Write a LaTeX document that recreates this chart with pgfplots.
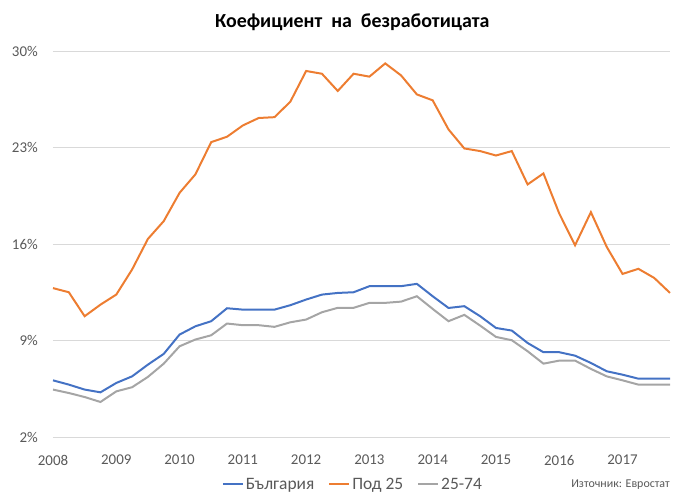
\documentclass[border=0pt]{standalone}
\usepackage{pgfplots}
\usepackage{pgfplotstable}
\pgfplotsset{compat=1.18}
\usepackage{fontspec}
\setmainfont{Carlito}
\definecolor{xlblue}{HTML}{4472C4}
\definecolor{xlorange}{HTML}{ED7D31}
\definecolor{xlgray}{HTML}{A5A5A5}
\definecolor{gridc}{HTML}{D9D9D9}
\definecolor{txt}{HTML}{595959}

\pgfplotstableread{
idx bg u25 a
0 6.11 12.80 5.44
1 5.80 12.50 5.19
2 5.44 10.76 4.90
3 5.24 11.60 4.54
4 5.92 12.33 5.31
5 6.40 14.15 5.61
6 7.25 16.37 6.36
7 8.03 17.66 7.32
8 9.43 19.71 8.58
9 10.03 21.05 9.07
10 10.40 23.39 9.38
11 11.34 23.78 10.23
12 11.24 24.60 10.11
13 11.24 25.14 10.11
14 11.24 25.20 9.99
15 11.56 26.32 10.32
16 11.97 28.55 10.52
17 12.33 28.35 11.05
18 12.45 27.10 11.37
19 12.50 28.35 11.37
20 12.94 28.14 11.73
21 12.94 29.10 11.73
22 12.94 28.23 11.82
23 13.11 26.85 12.21
24 12.21 26.42 11.29
25 11.36 24.31 10.40
26 11.49 22.93 10.86
27 10.76 22.74 10.08
28 9.91 22.42 9.26
29 9.72 22.74 9.02
30 8.82 20.32 8.22
31 8.15 21.12 7.32
32 8.15 18.21 7.54
33 7.90 15.91 7.54
34 7.37 18.31 6.94
35 6.77 15.79 6.40
36 6.52 13.83 6.11
37 6.23 14.20 5.80
38 6.23 13.54 5.80
39 6.23 12.45 5.80
}\datatable

\begin{document}
\begin{tikzpicture}
\path[use as bounding box] (-53bp,-58bp) rectangle (620bp,437bp);
\begin{axis}[
  scale only axis,
  width=617bp, height=386bp,
  xmin=0, xmax=39, ymin=2, ymax=30,
  clip=false,
  axis line style={draw=none},
  major tick length=0pt,
  ytick={2,9,16,23,30},
  yticklabels={2\%,9\%,16\%,23\%,30\%},
  xtick={0,4,...,36},
  xticklabels={2008,2009,2010,2011,2012,2013,2014,2015,2016,2017},
  ymajorgrids,
  grid style={gridc, line width=0.8pt},
  tick label style={font=\fontsize{15}{18}\selectfont, text=txt},
  yticklabel style={anchor=east, inner sep=0pt, xshift=-15bp},
  xticklabel style={anchor=north, inner sep=0pt, yshift=-18bp},
  legend style={at={(0.486,-0.123)}, anchor=center, draw=none, fill=none,
    legend columns=3, font=\fontsize{17.5}{20}\selectfont, text=txt,
    /tikz/every even column/.append style={column sep=12bp},
    inner sep=0pt},
  legend image code/.code={\draw[#1, line width=2pt] (0bp,0bp) -- (20bp,0bp);},
]
\addplot[xlblue, line width=2pt] table[x=idx, y=bg] {\datatable};
\addlegendentry{България}
\addplot[xlorange, line width=2pt] table[x=idx, y=u25] {\datatable};
\addlegendentry{Под 25}
\addplot[xlgray, line width=2pt] table[x=idx, y=a] {\datatable};
\addlegendentry{25-74}
\node[anchor=center, font=\bfseries\fontsize{20}{24}\selectfont, text=black] at (rel axis cs:0.485,1) [yshift=29bp] {Коефициент\ \ на\ \ безработицата};
\node[anchor=east, font=\fontsize{12}{14}\selectfont, text=txt, inner sep=0pt] at (rel axis cs:1,0) [yshift=-48bp] {Източник: Евростат};
\end{axis}
\end{tikzpicture}
\end{document}
